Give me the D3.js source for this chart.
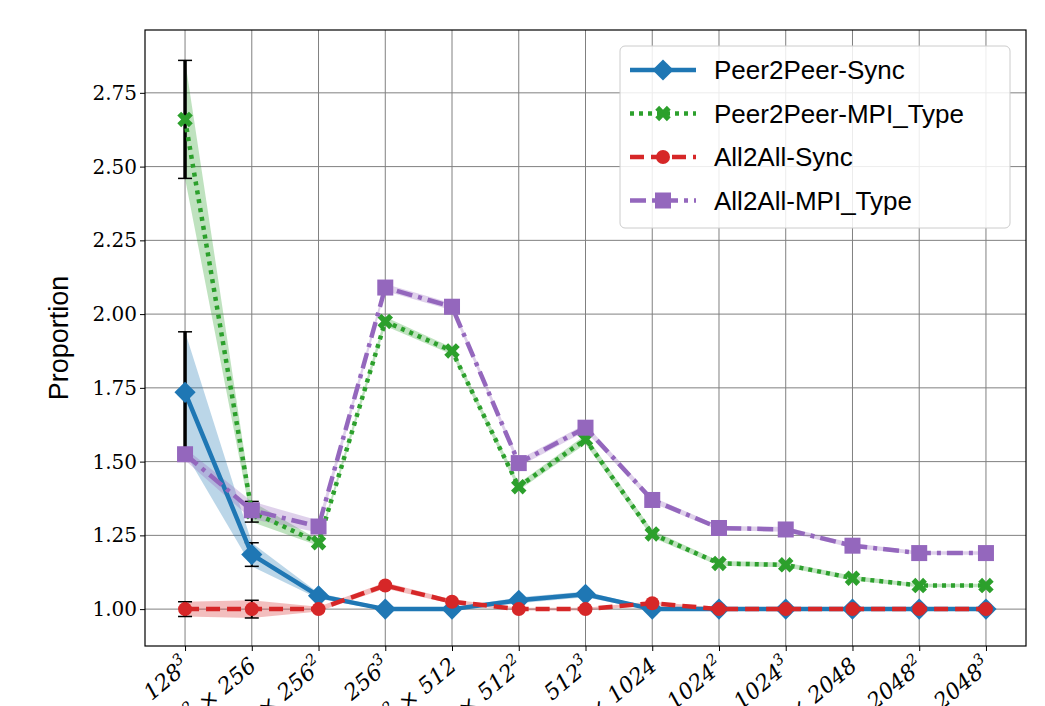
<!DOCTYPE html>
<html><head><meta charset="utf-8">
<script src="https://cdn.jsdelivr.net/npm/d3@7"></script>
<style>body{margin:0;background:#fff}</style>
</head><body><div id="container"></div>
<script>
// x categories: [base, superscript, times-part, superscript]
var categories = [
  ["128","3"],["128","2","256",""],["128","","256","2"],["256","3"],
  ["256","2","512",""],["256","","512","2"],["512","3"],["512","2","1024",""],
  ["512","","1024","2"],["1024","3"],["1024","2","2048",""],["1024","","2048","2"],["2048","3"]
];
var p2pSync = [1.735,1.185,1.045,1.0,1.0,1.03,1.05,1.0,1.0,1.0,1.0,1.0,1.0];
var p2pSyncErr = [0.205,0.04,0.01,0.005,0.005,0.01,0.01,0.005,0.005,0.005,0.005,0.005,0.005];
var p2pMpi = [2.66,1.33,1.225,1.975,1.875,1.415,1.575,1.255,1.155,1.15,1.105,1.08,1.08];
var p2pMpiErr = [0.2,0.035,0.01,0.015,0.012,0.012,0.015,0.012,0.008,0.008,0.008,0.006,0.006];
var a2aSync = [1.0,1.0,1.0,1.08,1.025,1.0,1.0,1.02,1.0,1.0,1.0,1.0,1.0];
var a2aSyncErr = [0.025,0.03,0.008,0.01,0.008,0.005,0.005,0.006,0.004,0.004,0.004,0.004,0.004];
var a2aMpi = [1.525,1.335,1.28,2.09,2.025,1.495,1.615,1.37,1.275,1.27,1.215,1.19,1.19];
var a2aMpiErr = [0.02,0.03,0.02,0.012,0.012,0.012,0.012,0.01,0.008,0.008,0.008,0.006,0.006];
var yTicks = [1.00,1.25,1.50,1.75,2.00,2.25,2.50,2.75];

var series = [
  {name:"Peer2Peer-Sync", v:p2pSync, e:p2pSyncErr, color:"#1f77b4", dash:null, marker:"diamond", bars:true},
  {name:"Peer2Peer-MPI_Type", v:p2pMpi, e:p2pMpiErr, color:"#2ca02c", dash:"4,5", marker:"x", bars:true},
  {name:"All2All-Sync", v:a2aSync, e:a2aSyncErr, color:"#d62728", dash:"14,7", marker:"circle", bars:true},
  {name:"All2All-MPI_Type", v:a2aMpi, e:a2aMpiErr, color:"#9467bd", dash:"16,6,4,6", marker:"square", bars:false}
];

var width = 1045, height = 706;
var L = 145, R = 1026, T = 30, B = 646;
var svg = d3.select("#container").append("svg").attr("width", width).attr("height", height);

var x = d3.scaleLinear().domain([-0.6, 12.6]).range([L, R]);
var y = d3.scaleLinear().domain([0.875, 2.963]).range([B, T]);

// grid
svg.append("g").selectAll("line").data(d3.range(13)).enter().append("line")
  .attr("x1", d => x(d)).attr("x2", d => x(d)).attr("y1", T).attr("y2", B)
  .attr("stroke", "#808080").attr("stroke-width", 1);
svg.append("g").selectAll("line").data(yTicks).enter().append("line")
  .attr("x1", L).attr("x2", R).attr("y1", d => y(d)).attr("y2", d => y(d))
  .attr("stroke", "#808080").attr("stroke-width", 1);

// bands
series.forEach(function(s){
  var area = d3.area().x((d,i) => x(i)).y0((d,i) => y(d - s.e[i])).y1((d,i) => y(d + s.e[i]));
  svg.append("path").attr("d", area(s.v)).attr("fill", s.color).attr("opacity", 0.3);
});

// error bars on first two points
series.forEach(function(s){
  if (!s.bars) return;
  [0,1].forEach(function(i){
    var g = svg.append("g").attr("stroke", "black").attr("stroke-width", 1.5);
    g.append("line").attr("x1", x(i)).attr("x2", x(i)).attr("y1", y(s.v[i]-s.e[i])).attr("y2", y(s.v[i]+s.e[i])).attr("stroke-width", i==0 ? 3.5 : 2);
    [-1,1].forEach(function(k){
      g.append("line").attr("x1", x(i)-7).attr("x2", x(i)+7).attr("y1", y(s.v[i]+k*s.e[i])).attr("y2", y(s.v[i]+k*s.e[i]));
    });
  });
});

function drawMarker(g, type, cx, cy, color){
  if (type=="diamond") g.append("rect").attr("x",-7.5).attr("y",-7.5).attr("width",15).attr("height",15).attr("transform","translate("+cx+","+cy+") rotate(45)").attr("fill", color);
  else if (type=="circle") g.append("circle").attr("cx",cx).attr("cy",cy).attr("r",7).attr("fill",color);
  else if (type=="square") g.append("rect").attr("x",cx-8).attr("y",cy-8).attr("width",16).attr("height",16).attr("fill",color);
  else g.append("path").attr("d", d3.symbol(d3.symbolCross, 150)()).attr("transform","translate("+cx+","+cy+") rotate(45)").attr("fill", color);
}

// lines + markers
var line = d3.line().x((d,i) => x(i)).y(d => y(d));
series.forEach(function(s){
  svg.append("path").attr("d", line(s.v)).attr("fill","none").attr("stroke", s.color)
    .attr("stroke-width", 4.5).attr("stroke-dasharray", s.dash);
  var g = svg.append("g");
  s.v.forEach(function(d,i){ drawMarker(g, s.marker, x(i), y(d), s.color); });
});

// axes frame
svg.append("rect").attr("x",L).attr("y",T).attr("width",R-L).attr("height",B-T).attr("fill","none").attr("stroke","black").attr("stroke-width",1.2);

var yAxis = svg.append("g").attr("transform","translate("+L+",0)")
  .call(d3.axisLeft(y).tickValues(yTicks).tickFormat(d3.format(".2f")).tickSize(5));
yAxis.select(".domain").remove();
yAxis.selectAll("text").attr("font-family","DejaVu Serif, Liberation Serif, serif").attr("font-size",20).attr("fill","#000");

var xAxis = svg.append("g").attr("transform","translate(0,"+B+")")
  .call(d3.axisBottom(x).tickValues(d3.range(13)).tickFormat("").tickSize(5));
xAxis.select(".domain").remove();

// x labels with superscripts
categories.forEach(function(c,i){
  var t = svg.append("text").attr("text-anchor","end")
    .attr("transform","translate("+(x(i)+6)+","+(B+22)+") rotate(-40)")
    .attr("font-family","DejaVu Serif, Liberation Serif, serif").attr("font-size",22).attr("font-style","italic");
  t.append("tspan").text(c[0]);
  if (c[1]) t.append("tspan").attr("font-size",15).attr("dy",-10).text(c[1]);
  if (c.length > 2) {
    t.append("tspan").attr("dy", c[1] ? 10 : 0).text(" \u00d7 " + c[2]);
    if (c[3]) t.append("tspan").attr("font-size",15).attr("dy",-10).text(c[3]);
  }
});

svg.append("text").attr("transform","translate(68,"+((T+B)/2)+") rotate(-90)")
  .attr("text-anchor","middle").attr("font-family","Liberation Sans, Arial, sans-serif").attr("font-size",27).text("Proportion");

// legend
var lg = svg.append("g");
lg.append("rect").attr("x",620).attr("y",46).attr("width",390).attr("height",182).attr("rx",5)
  .attr("fill","white").attr("fill-opacity",0.85).attr("stroke","#ccc");
series.forEach(function(s,i){
  var ly = 70 + i*43.5;
  lg.append("line").attr("x1",630).attr("x2",696).attr("y1",ly).attr("y2",ly)
    .attr("stroke",s.color).attr("stroke-width",4.5).attr("stroke-dasharray",s.dash);
  drawMarker(lg, s.marker, 663, ly, s.color);
  lg.append("text").attr("x",714).attr("y",ly+9).attr("font-family","Liberation Sans, Arial, sans-serif").attr("font-size",26).text(s.name);
});
</script>
</body></html>
